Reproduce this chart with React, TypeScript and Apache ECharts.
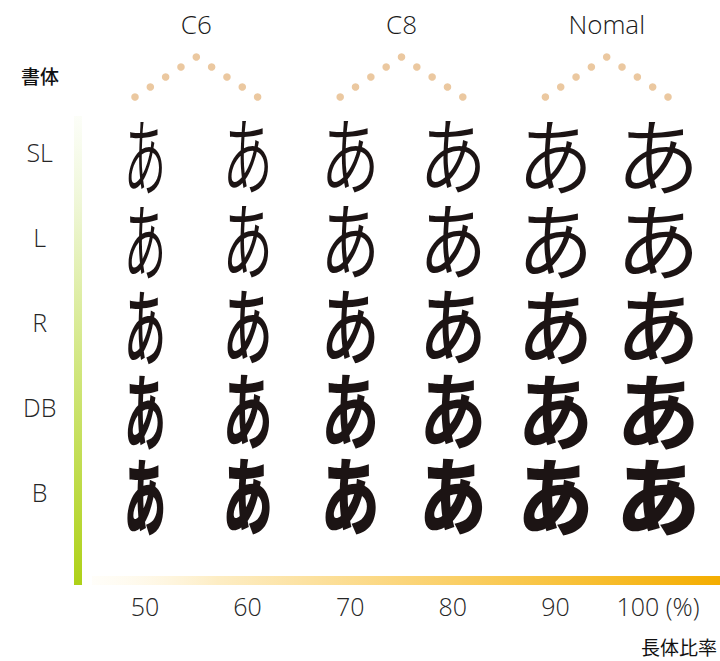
import React, { useEffect, useRef } from "react";
import * as echarts from "echarts";

const widthRatios = [50, 60, 70, 80, 90, 100];
const xTickLabels = ["50", "60", "70", "80", "90", "100 (%)"];
const weightNames = ["SL", "L", "R", "DB", "B"];
const weightValues = [350, 400, 500, 700, 900];
const groupNames = ["C6", "C8", "Nomal"];
const groupSpans = [
  [0, 1],
  [2, 3],
  [4, 5],
];
const glyph = "あ";

const App: React.FC = () => {
  const ref = useRef<HTMLDivElement>(null);
  useEffect(() => {
    if (!ref.current) return;
    const chart = echarts.init(ref.current, undefined, { renderer: "svg" });

    const glyphData: number[][] = [];
    weightNames.forEach((_, yi) => {
      widthRatios.forEach((r, xi) => {
        glyphData.push([xi, yi, r, weightValues[yi]]);
      });
    });
    const groupData = groupSpans.map((s, i) => [s[0], s[1], i]);

    const labelFont = "'Open Sans', 'Noto Sans', sans-serif";

    chart.setOption({
      animation: false,
      backgroundColor: "#ffffff",
      grid: { left: 93.7, right: 10.7, top: 109.5, bottom: 126.5 },
      xAxis: {
        type: "category",
        data: xTickLabels,
        boundaryGap: true,
        axisLine: { show: false },
        axisTick: { show: false },
        splitLine: { show: false },
        axisLabel: {
          margin: 59,
          fontSize: 25,
          color: "#262626",
          fontFamily: labelFont,
          fontWeight: 300,
          interval: 0,
        },
      },
      yAxis: {
        type: "category",
        data: weightNames,
        inverse: true,
        axisLine: { show: false },
        axisTick: { show: false },
        splitLine: { show: false },
        axisLabel: {
          margin: 54,
          align: "center",
          fontSize: 25,
          color: "#262626",
          fontFamily: labelFont,
          fontWeight: 300,
        },
      },
      graphic: [
        {
          type: "rect",
          shape: { x: 74, y: 116, width: 8, height: 469 },
          style: {
            fill: new echarts.graphic.LinearGradient(0, 0, 0, 1, [
              { offset: 0, color: "rgba(240,248,220,0.2)" },
              { offset: 0.2, color: "#eef6d4" },
              { offset: 0.55, color: "#d0e67c" },
              { offset: 1, color: "#aed118" },
            ]),
          },
          z: 1,
        },
        {
          type: "rect",
          shape: { x: 92, y: 576, width: 628, height: 9 },
          style: {
            fill: new echarts.graphic.LinearGradient(0, 0, 1, 0, [
              { offset: 0, color: "rgba(255,250,235,0.3)" },
              { offset: 0.2, color: "#fdedc4" },
              { offset: 0.5, color: "#fbd57a" },
              { offset: 0.75, color: "#f8c23c" },
              { offset: 1, color: "#f4ad00" },
            ]),
          },
          z: 1,
        },
        {
          type: "text",
          x: 40,
          y: 75,
          style: {
            text: "書体",
            fontSize: 19,
            fontWeight: 500,
            fontFamily: "'Noto Sans CJK JP', sans-serif",
            fill: "#111111",
            align: "center",
            verticalAlign: "middle",
          },
        },
        {
          type: "text",
          x: 717,
          y: 646,
          style: {
            text: "長体比率",
            fontSize: 19,
            fontFamily: "'Noto Sans CJK JP', sans-serif",
            fill: "#111111",
            align: "right",
            verticalAlign: "middle",
          },
        },
      ],
      series: [
        {
          type: "custom",
          data: glyphData,
          renderItem: (params: any, api: any) => {
            const p = api.coord([api.value(0), api.value(1)]);
            const ratio = api.value(2) / 100;
            const w = api.value(3);
            return {
              type: "text",
              x: p[0],
              y: p[1],
              scaleX: ratio,
              style: {
                text: glyph,
                fontSize: 84,
                lineHeight: 80,
                fontFamily: "'Noto Sans CJK JP', sans-serif",
                fontWeight: w,
                fill: "#1c1414",
                align: "center",
                verticalAlign: "middle",
              },
            };
          },
        },
        {
          type: "custom",
          data: groupData,
          renderItem: (params: any, api: any) => {
            const a = api.coord([api.value(0), 0]);
            const b = api.coord([api.value(1), 0]);
            const name = groupNames[api.value(2)];
            const mid = (a[0] + b[0]) / 2;
            const half = (b[0] - a[0]) / 2 + 10;
            const baseY = a[1] - 55;
            const rise = 40;
            const children: any[] = [];
            const n = 9;
            for (let i = 0; i < n; i++) {
              const t = i / (n - 1);
              const x = mid - half + 2 * half * t;
              const y = baseY - rise * (1 - Math.abs(2 * t - 1));
              children.push({
                type: "circle",
                shape: { cx: x, cy: y, r: 3.8 },
                style: { fill: "#ebc8a0" },
              });
            }
            children.push({
              type: "text",
              x: mid,
              y: baseY - rise - 33,
              style: {
                text: name,
                fontSize: 26,
                fontFamily: labelFont,
                fontWeight: 300,
                fill: "#1a1a1a",
                align: "center",
                verticalAlign: "middle",
              },
            });
            return { type: "group", children };
          },
        },
      ],
    });
    return () => chart.dispose();
  }, []);
  return (
    <div
      ref={ref}
      style={{ position: "fixed", left: 0, top: 0, width: 720, height: 661 }}
    />
  );
};

export default App;
